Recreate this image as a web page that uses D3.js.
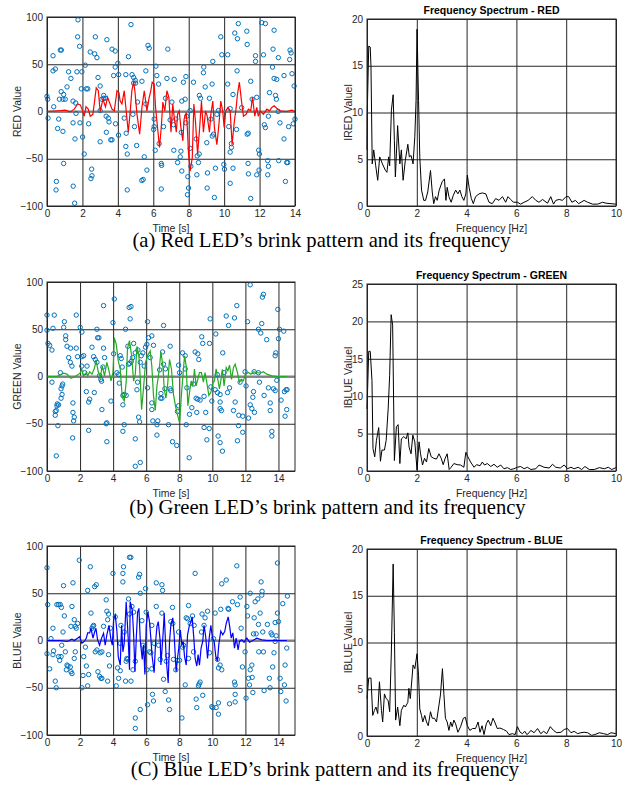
<!DOCTYPE html>
<html lang="en">
<head>
  <meta charset="UTF-8">
  <script src="https://d3js.org/d3.v7.min.js"></script>
  <style>
    body { margin: 0; background: #fff; }
    svg { display: block; font-family: "Liberation Sans", Arial, sans-serif; }
    .tick text { fill: #262626; font-family: "Liberation Sans", Arial, sans-serif; font-size: 10px; }
    .grid line { stroke: #262626; stroke-width: 1; }
    .axlabel { fill: #262626; font-size: 10.5px; }
    .title { fill: #000; font-size: 10.5px; font-weight: bold; }
    .caption { fill: #000; font-family: "Liberation Serif", "Times New Roman", serif; font-size: 20.6px; }
  </style>
  <title>LED blink patterns</title>
</head>
<body>
<svg id="fig" width="630" height="792"></svg>
<script>

// ---- data: [time s, value] ----
var redDots = [[1.75,97],[1.73,79],[1.84,69],[0.34,59],[0.75,65],[0.81,65],[2.73,79],[2.44,63],[2.69,61],[2.82,57],[3.38,76],[3.67,66],[3.85,64],[4.74,92],[4.6,58],[5.7,70],[5.77,67],[6.82,66],[9.81,79],[9.87,60],[10.2,60],[10.6,83],[10.8,93],[10.75,77],[11.28,85],[11.3,71],[9.36,53],[11.77,59],[11.77,53],[12.12,94],[12.33,93],[12.22,60],[12.82,86],[12.76,66],[13.06,57],[13.72,65],[13.78,62],[13.7,55],[13.83,40],[13.38,38],[12.73,47],[12.82,35],[12.97,34],[13.95,27],[12.56,20],[12.9,17],[12.95,13],[13.05,0],[12.5,-5],[13.15,-12],[13.64,-16],[13.9,-13],[14.0,-8],[13.38,-29],[12.27,-14],[12.33,-17],[11.84,15],[11.58,13],[11.5,32],[10.73,43],[10.2,29],[10.5,18],[10.34,3],[10.99,4],[10.26,-16],[10.7,-19],[10.41,-34],[10.41,-38],[10.34,-43],[11.3,-24],[11.36,-23],[11.95,-41],[11.99,-45],[11.35,-55],[11.97,-62],[11.37,-66],[11.84,-67],[12.46,-52],[12.5,-58],[12.46,-67],[13.08,-52],[13.53,-54],[13.59,-54],[13.46,-74],[11.5,-92],[10.5,-60],[10.34,-76],[9.98,-56],[10.02,-61],[9.51,-60],[9.45,-91],[9.06,-65],[9.04,-81],[9.02,-33],[9.25,-8],[9.4,-24],[9.33,-26],[9.68,1],[9.59,-3],[8.67,14],[9.17,14],[8.93,26],[8.83,41],[8.85,47],[9.32,29],[8.27,31],[8.6,17],[7.84,37],[7.61,11],[7.7,31],[7.18,34],[6.77,35],[6.2,38],[6.3,29],[6.15,48],[5.58,43],[5.36,32],[5.0,30],[4.89,30],[4.98,33],[4.89,36],[4.8,39],[4.45,39],[4.0,51],[3.85,47],[3.76,38],[4.04,39],[2.88,36],[3.0,27],[2.16,49],[1.97,42],[1.69,42],[2.3,24],[2.22,24],[1.94,24],[1.35,35],[1.22,42],[1.13,26],[0.8,21],[0.94,18],[0.7,13],[0.9,13],[1.03,13],[0.47,45],[0.34,43],[0.0,16],[0.04,13],[0.38,5],[0.06,-7],[0.6,-18],[0.9,-21],[0.66,-8],[1.47,11],[1.62,9],[1.47,-12],[1.64,-2],[1.86,-12],[1.58,-29],[2.01,-27],[2.35,-13],[2.1,-45],[0.94,-55],[0.53,-74],[0.51,-83],[1.48,-79],[1.56,-97],[2.52,-61],[2.54,-68],[2.48,-71],[3.0,-32],[3.0,1],[3.1,13],[3.2,14],[3.3,14],[3.2,17],[3.34,-5],[3.46,-7],[3.5,-11],[3.35,-22],[3.6,-30],[3.67,-30],[4.04,-25],[3.87,-13],[4.36,-7],[4.47,-23],[4.45,-37],[4.53,-45],[4.53,-83],[4.85,-3],[4.94,-16],[5.06,-36],[5.35,-73],[5.43,-72],[5.49,-48],[5.64,-62],[5.11,10],[5.58,8],[6.05,-8],[6.02,-19],[6.05,-16],[6.11,-41],[6.33,-34],[6.45,-55],[6.47,-57],[6.45,-82],[6.58,-16],[6.69,14],[6.95,-9],[7.05,10],[7.14,-14],[7.27,-8],[7.16,-41],[7.37,-54],[7.56,-42],[7.52,-48],[7.61,-63],[7.58,-22],[7.89,-5],[7.84,-12],[8.08,-39],[7.95,-69],[7.99,-81],[7.93,-88],[8.12,-58],[8.48,-47],[8.46,-67],[8.55,-54],[8.59,-45],[8.42,-29],[8.08,1],[7.8,13]];

var redLine = [[0,0],[0.75,1],[1.03,1.5],[1.32,-0.4],[1.54,2.5],[1.73,8],[1.88,7],[2.01,0.7],[2.1,-5],[2.2,5],[2.33,2.5],[2.44,-5],[2.59,-3],[2.78,25],[2.9,22],[3.0,0],[3.16,13],[3.3,5],[3.42,15],[3.53,9.5],[3.67,2.5],[3.8,0.7],[3.95,22],[4.06,20],[4.13,11],[4.23,8],[4.36,22],[4.47,0.7],[4.59,-22],[4.7,0.7],[4.79,22],[4.89,31],[4.96,22],[5.08,-3],[5.23,-24],[5.36,4.3],[5.49,22],[5.64,0.7],[5.75,13],[5.86,22],[5.94,31],[6.05,29],[6.13,4.3],[6.24,-17],[6.35,-38],[6.45,-17],[6.54,10],[6.65,0.7],[6.77,22],[6.88,15],[7.0,-22],[7.1,8],[7.18,-6],[7.3,-22],[7.37,-3],[7.46,0.7],[7.56,-17],[7.67,-31],[7.74,-8],[7.86,-1],[7.93,-20],[7.99,-45],[8.08,-63],[8.2,-49],[8.29,8],[8.38,-10],[8.5,-45],[8.6,-22],[8.72,11],[8.83,-22],[8.95,0.7],[9.04,-4.6],[9.17,-22],[9.25,-3],[9.36,11],[9.45,-17],[9.59,-35],[9.7,-15],[9.81,11],[9.92,0.7],[10.0,-17],[10.09,0.7],[10.22,4.3],[10.34,0.7],[10.45,-35],[10.56,-13],[10.68,4.3],[10.75,18],[10.86,31],[10.98,11],[11.09,-5],[11.24,-3],[11.37,2.5],[11.5,0.7],[11.6,15],[11.73,-5],[11.84,4.3],[11.93,-5],[12.03,0.7],[12.22,-3],[12.41,2.5],[12.56,0.7],[12.69,4.3],[12.82,6],[12.97,3.5],[13.16,0.7],[13.53,0],[13.81,1.4],[14,0]];

var greenDots = [[0,65],[0.44,65],[0,49],[0.36,51],[0.06,35],[0.16,33],[0.3,28],[0.3,-6],[1.05,58],[1.01,52],[1.13,43],[1.13,39],[1.21,32],[1.43,30],[1.31,20],[1.41,15],[1.51,11],[0.81,4],[0.95,-8],[0.91,-10],[0.85,-13],[0.91,-19],[0.85,-23],[0.7,-30],[0.62,-29],[0.6,-31],[0.5,-37],[0.56,-36],[0.5,-41],[0.66,-52],[0.56,-84],[1.55,-65],[1.57,-28],[1.57,-38],[1.65,-43],[1.61,-47],[1.77,65],[1.77,30],[1.85,21],[2.01,52],[2.11,47],[2.11,21],[2.22,22],[2.1,11],[2.28,4],[2.42,11],[2.72,31],[2.82,21],[2.92,18],[3.02,15],[3.06,41],[3.14,41],[3.02,50],[3.38,10],[3.18,1],[3.26,-3],[3.3,-5],[2.52,-57],[2.58,-24],[2.52,-27],[2.38,-16],[2.86,-17],[3.32,-35],[3.42,30],[3.48,20],[3.42,75],[3.62,-49],[3.58,-50],[3.62,-69],[3.87,-26],[3.99,57],[4.07,82],[4.03,24],[4.23,4],[4.33,2],[4.37,-7],[4.43,22],[4.49,19],[4.55,10],[4.59,-20],[4.67,-19],[4.79,-20],[4.59,-30],[4.67,-51],[4.59,-58],[4.89,32],[4.75,50],[4.97,73],[5.08,74],[5.03,61],[5.0,14],[4.93,13],[5.1,16],[5.18,20],[5.24,35],[5.34,25],[5.5,28],[5.48,-6],[5.44,-14],[5.34,-66],[5.34,-95],[5.64,-91],[5.54,-43],[5.6,-48],[5.64,15],[5.7,22],[5.8,25],[5.88,11],[5.96,31],[6.04,34],[6.08,58],[6.08,-12],[6.14,41],[6.24,20],[6.34,43],[6.44,33],[6.34,-28],[6.34,-35],[6.4,-47],[6.7,-47],[6.65,-51],[6.65,-62],[6.89,-18],[6.99,26],[7.05,13],[7.05,54],[7.13,-13],[6.87,-23],[6.95,-23],[6.81,7],[7.17,8],[7.35,-51],[7.45,32],[7.45,-13],[7.49,-15],[7.59,-69],[7.85,-73],[7.89,-37],[7.96,-31],[8.02,4],[7.96,12],[8.2,25],[8.36,22],[8.36,8],[8.46,-12],[8.42,-51],[8.6,-86],[8.62,-40],[8.76,-33],[8.86,-8],[8.96,26],[9.12,24],[9.18,18],[9.02,-23],[9.12,-24],[9.26,-25],[9.06,-38],[9.36,42],[9.42,35],[9.5,-21],[9.6,-38],[9.5,-54],[9.67,-67],[9.81,-55],[9.87,61],[9.83,35],[9.91,-11],[9.97,-26],[10.21,45],[10.35,-63],[10.47,-70],[10.61,-79],[10.3,2],[10.17,-14],[10.31,-17],[10.47,-19],[10.47,-27],[10.47,-34],[10.55,-36],[10.63,25],[10.84,64],[10.98,54],[10.71,4],[10.92,-17],[11.04,-12],[11.28,-36],[11.38,-27],[11.34,62],[11.48,75],[11.52,-68],[11.6,-41],[11.58,-52],[11.68,-6],[11.84,-42],[11.84,-59],[11.98,5],[12.04,-10],[12.13,58],[12.19,-44],[12.29,-30],[12.39,-34],[12.45,-22],[12.49,-16],[12.55,-38],[12.53,5],[12.79,4],[12.85,-6],[12.29,97],[12.79,50],[12.93,46],[12.99,56],[13.03,84],[13.09,87],[13.13,-20],[13.29,39],[13.39,-12],[13.5,-36],[13.5,-28],[13.6,-58],[13.6,-63],[13.7,-13],[13.8,-15],[13.84,25],[13.8,22],[13.9,-4],[13.96,71],[14.0,40],[14.06,50],[14.16,-25],[14.36,-16],[14.32,48],[14.46,-14],[14.52,-14],[14.4,-42],[14.5,-35]];

var greenLine = [[0,0],[0.6,0],[1.0,3.5],[1.21,2.5],[1.45,-2],[1.71,0],[2.0,3.5],[2.1,8],[2.2,0.7],[2.38,4.2],[2.46,0.7],[2.58,5],[2.72,2.5],[2.86,8.5],[2.98,16.5],[3.1,5],[3.22,-1],[3.34,11],[3.48,0.7],[3.62,15],[3.75,6],[3.87,-4.6],[3.99,4.2],[4.07,41],[4.19,34],[4.31,16.5],[4.43,7.7],[4.55,-22],[4.67,-26],[4.79,-6],[4.87,30],[4.99,38],[5.12,22],[5.24,-5],[5.34,2.5],[5.44,32],[5.56,22],[5.64,-2],[5.72,-35],[5.84,-12],[5.96,15],[6.08,22],[6.24,27],[6.34,11],[6.44,-20],[6.55,-36],[6.65,-10],[6.77,4.2],[6.89,26],[7.01,11],[7.09,-13],[7.19,-23],[7.29,-10],[7.41,18],[7.53,7.7],[7.65,-19],[7.77,-31],[7.89,-40],[8.02,-49],[8.12,-22],[8.22,0.7],[8.32,22],[8.42,11],[8.52,-31],[8.62,-17],[8.72,-4.6],[8.82,-10],[8.92,8],[9.02,-10],[9.12,-3],[9.22,4],[9.34,4],[9.46,-6],[9.56,4],[9.66,-6],[9.79,-20],[9.91,-17],[10.03,-7],[10.13,-4.6],[10.23,8],[10.31,-1],[10.43,-13],[10.51,-4.6],[10.61,7.7],[10.71,-10],[10.84,9.5],[10.94,6],[11.04,12],[11.16,-3],[11.28,9.5],[11.38,13],[11.52,4.2],[11.64,-6],[11.76,-3],[11.88,-4.6],[12.0,2.5],[12.19,4.2],[12.33,2.5],[12.49,4.9],[12.69,4.2],[12.89,3.5],[13.09,5],[13.29,2.5],[13.6,0.7],[13.9,0],[14.5,0]];

var blueDots = [[0,77],[0.04,38],[0.16,-30],[0,-14],[0.24,2],[0.36,13],[0.36,-15],[0.4,-11],[0.5,-43],[0.56,-50],[0.6,38],[0.7,38],[0.8,38],[0.87,35],[0.7,-17],[0.77,-21],[0.85,-17],[0.89,-5],[0.97,9],[1.0,58],[1.05,26],[1.11,-12],[1.17,-31],[1.21,-26],[1.27,-27],[1.41,-28],[1.45,-33],[1.51,-35],[1.45,15],[1.57,61],[1.51,36],[1.65,22],[1.71,15],[1.77,13],[1.85,18],[1.71,-12],[1.65,-19],[1.95,85],[2.11,-50],[2.18,-37],[2.22,-17],[2.32,-7],[2.38,-27],[2.46,-48],[2.46,53],[2.52,-36],[2.62,78],[2.66,29],[2.72,13],[2.78,15],[2.82,16],[2.88,57],[2.98,59],[2.92,-12],[3.02,-10],[3.08,-33],[3.18,-38],[3.26,-40],[3.22,-13],[3.32,-12],[3.32,-40],[3.42,15],[3.58,43],[3.62,31],[3.72,28],[3.67,22],[3.67,-43],[3.72,-15],[3.78,-27],[3.83,13],[3.99,71],[4.13,25],[4.19,-48],[4.27,-29],[4.33,-40],[4.43,-32],[4.43,-3],[4.47,16],[4.59,71],[4.63,78],[4.59,62],[4.67,9],[4.75,-43],[4.83,-19],[4.87,-20],[4.79,-22],[4.99,28],[4.93,44],[4.99,88],[5.07,88],[5.08,-43],[5.2,-31],[5.14,36],[5.24,30],[5.34,-22],[5.34,-82],[5.34,-93],[5.54,67],[5.6,70],[5.64,50],[5.64,-73],[5.74,21],[5.8,-5],[5.88,-10],[5.96,55],[6.0,30],[6.04,-31],[6.08,-68],[6.2,-12],[6.28,-13],[6.34,16],[6.34,-30],[6.38,-57],[6.44,-64],[6.48,-3],[6.61,61],[6.61,36],[6.75,-5],[6.85,-20],[6.95,59],[6.99,53],[6.95,29],[7.05,-41],[7.15,-54],[7.21,-22],[7.29,-16],[7.35,-63],[7.41,-73],[7.49,20],[7.59,35],[7.61,18],[7.65,-20],[7.79,-31],[7.89,-21],[7.96,9],[8.02,-21],[8.16,-82],[8.2,-7],[8.26,-5],[8.36,-47],[8.42,24],[8.5,23],[8.56,37],[8.56,-19],[8.66,18],[8.8,26],[8.86,-12],[8.96,71],[8.9,16],[9.02,-62],[9.06,-71],[9.16,-48],[9.2,-46],[9.26,-44],[9.34,9],[9.38,28],[9.42,-58],[9.5,16],[9.56,24],[9.71,31],[9.83,-13],[9.97,-70],[10.03,-71],[10.07,2],[10.17,29],[10.23,-71],[10.31,-20],[10.37,-66],[10.37,-78],[10.37,-29],[10.47,-26],[10.51,33],[10.57,-31],[10.57,60],[10.84,64],[10.99,33],[10.95,34],[11.04,-67],[11.22,41],[11.34,-44],[11.38,-47],[11.38,-57],[11.38,-65],[11.48,79],[11.52,38],[11.68,46],[11.74,13],[11.82,-28],[11.98,-12],[12.04,-61],[12.09,36],[12.13,26],[12.19,-40],[12.25,-47],[12.29,-31],[12.29,50],[12.39,-26],[12.41,-39],[12.45,-55],[12.49,7],[12.53,24],[12.59,41],[12.65,7],[12.75,44],[12.79,17],[12.81,-12],[12.89,29],[12.95,62],[12.99,48],[13.01,52],[13.05,9],[13.09,-12],[13.13,-53],[13.33,17],[13.45,-40],[13.49,-50],[13.55,8],[13.61,6],[13.65,-28],[13.73,-13],[13.8,-1],[13.8,19],[13.86,5],[13.94,29],[14.0,20],[13.94,82],[14.1,-40],[14.14,-54],[14.26,39],[14.36,-47],[14.4,-26],[14.46,-64],[14.5,-8],[14.54,47]];

var blueLine = [[0,0],[0.81,0],[1.21,-1],[1.51,1.4],[1.65,0],[1.97,4],[2.11,-3],[2.26,-1],[2.38,2.5],[2.46,8],[2.58,8],[2.66,13],[2.78,2.5],[2.88,9],[2.96,13],[3.06,0.7],[3.18,-5],[3.3,2.5],[3.42,7.7],[3.52,-5],[3.62,6],[3.75,16],[3.87,0.7],[3.95,-5],[4.03,23],[4.13,27],[4.23,9.5],[4.31,-17],[4.43,-26],[4.51,16],[4.59,-12],[4.67,-3],[4.79,41],[4.91,2.5],[4.99,-31],[5.03,41],[5.16,32],[5.24,6],[5.32,-33],[5.4,2.5],[5.48,30],[5.56,34],[5.64,0.7],[5.76,-20],[5.84,-4.6],[5.92,-36],[6.0,16],[6.1,30],[6.2,20],[6.28,2.5],[6.36,-17],[6.48,-34],[6.57,-1],[6.65,15],[6.73,20],[6.85,-1],[6.89,-26],[7.03,9.5],[7.09,29],[7.21,-19],[7.33,-45],[7.41,-1],[7.49,16],[7.61,24],[7.69,6],[7.81,-33],[7.89,-19],[7.97,-8],[8.06,11],[8.16,-4.6],[8.24,-1],[8.32,-17],[8.42,-26],[8.5,6],[8.6,15],[8.7,20],[8.78,25],[8.88,2.5],[8.96,-19],[9.06,-27],[9.14,-15],[9.22,-26],[9.32,-8],[9.42,-1],[9.5,16],[9.6,4],[9.71,-19],[9.81,2.5],[9.91,16],[10.01,2.5],[10.11,-1],[10.21,-17],[10.31,-22],[10.39,-4.6],[10.51,10],[10.63,6],[10.75,9.5],[10.84,18],[10.96,25],[11.04,16],[11.14,2.5],[11.24,8],[11.34,-8],[11.44,2.5],[11.56,-10],[11.64,-1],[11.78,0.7],[11.92,-1.8],[12.09,2.5],[12.25,-1.8],[12.45,0],[12.69,2.5],[12.99,0.7],[13.29,0],[13.9,0],[14.5,0]];

// ---- spectra: [frequency Hz, magnitude] ----
var redSpec = [[0,6],[0.01,9.9],[0.07,17.1],[0.13,17],[0.16,14.9],[0.21,4.5],[0.27,6],[0.35,4.3],[0.43,2.75],[0.51,5.25],[0.62,4.5],[0.74,3.8],[0.8,3.6],[0.87,5.25],[0.91,4.3],[0.98,10.25],[1.05,11.9],[1.1,7],[1.14,3.1],[1.23,8.6],[1.32,4.5],[1.38,6],[1.45,2.75],[1.54,4.9],[1.64,6.6],[1.7,5.25],[1.77,5.4],[1.85,4.5],[1.92,7.4],[1.97,11.3],[2.01,18.9],[2.07,11.3],[2.12,5.25],[2.19,1.7],[2.28,0.6],[2.35,0.6],[2.44,1.5],[2.55,3.8],[2.62,1.5],[2.68,0.25],[2.75,1],[2.82,0.6],[2.9,1.7],[3.02,2.6],[3.11,2.9],[3.17,0.6],[3.22,2],[3.29,1],[3.38,0.4],[3.46,1.1],[3.56,1.7],[3.65,1.3],[3.73,1.7],[3.81,1],[3.89,0.6],[3.97,1.3],[4.03,3.3],[4.1,2],[4.19,0.8],[4.27,0.25],[4.36,1],[4.5,1.3],[4.63,1.4],[4.77,1.3],[4.9,0.4],[5.03,0.25],[5.17,0.8],[5.3,0.6],[5.44,1],[5.57,0.4],[5.66,1],[5.77,0.7],[5.88,0.4],[6.04,0.4],[6.17,0.2],[6.31,0.4],[6.47,0.6],[6.64,1],[6.78,0.6],[6.91,0.4],[7.05,0.7],[7.25,0.3],[7.38,1],[7.49,0.2],[7.58,0.6],[7.72,0.7],[7.85,0.6],[7.99,1],[8.1,1],[8.23,0.4],[8.37,0.6],[8.5,0.25],[8.72,0.6],[8.86,0.4],[9.06,0.2],[9.26,0.2],[9.46,0.4],[9.6,0.3],[9.8,0.25],[10,0.2]];

var greenSpec = [[0,8.3],[0.07,16],[0.13,16],[0.2,12.1],[0.24,3],[0.31,1.9],[0.38,4.1],[0.47,5.8],[0.54,1.3],[0.6,2.8],[0.7,2.8],[0.77,4.1],[0.85,8.3],[0.91,12.8],[0.97,20.9],[1.03,19.5],[1.1,1.4],[1.18,5.9],[1.25,6.2],[1.32,1],[1.38,4.3],[1.48,4.6],[1.57,4.3],[1.64,5.1],[1.69,3.2],[1.77,2.3],[1.84,4.8],[1.92,3.9],[2.01,0.1],[2.09,3.9],[2.15,2.3],[2.23,0.8],[2.31,1.7],[2.39,1.2],[2.48,3],[2.58,1.9],[2.68,1.7],[2.79,1.6],[2.89,2.3],[2.98,1.7],[3.06,0.85],[3.14,1.7],[3.22,2.3],[3.3,0.2],[3.38,0.5],[3.49,1],[3.62,0.85],[3.76,0.8],[3.89,0.5],[3.97,2.5],[4.05,1.9],[4.16,1.2],[4.3,0.5],[4.4,0.85],[4.54,0.7],[4.63,1.2],[4.72,0.8],[4.83,1],[4.97,0.6],[5.1,0.9],[5.23,0.5],[5.37,0.8],[5.5,0.3],[5.64,0.45],[5.77,0.2],[5.9,0.3],[6.04,0.5],[6.17,0.6],[6.31,0.3],[6.44,0.5],[6.58,0.2],[6.78,0.3],[6.91,0.8],[7.11,0.5],[7.32,0.4],[7.45,0.9],[7.58,0.5],[7.76,0.4],[7.92,0.8],[8.05,0.3],[8.19,0.5],[8.32,0.3],[8.48,0.5],[8.62,0.2],[8.75,0.6],[8.93,0.2],[9.13,0.2],[9.33,0.45],[9.53,0.3],[9.69,0.5],[9.83,0.2],[10,0.45]];

var blueSpec = [[0,4],[0.07,6.2],[0.16,6.2],[0.23,2.2],[0.3,2.75],[0.36,3.1],[0.43,2.4],[0.5,5.8],[0.58,2.75],[0.63,1.5],[0.7,4.5],[0.77,4],[0.85,3.8],[0.91,2.6],[0.98,9.2],[1.05,18.4],[1.1,11.1],[1.15,1.7],[1.23,3.1],[1.32,1.1],[1.38,2.75],[1.48,3.3],[1.54,3.1],[1.64,3.6],[1.68,5.1],[1.74,4],[1.85,7.6],[1.92,7.2],[2.01,8.8],[2.07,6.5],[2.12,2.9],[2.19,2.2],[2.24,1.5],[2.32,2.2],[2.39,1.5],[2.46,1.1],[2.55,2.6],[2.62,1.9],[2.71,1.9],[2.79,1.5],[2.89,3.3],[2.95,4.4],[3.03,7.2],[3.09,4.4],[3.15,1.9],[3.22,1.5],[3.29,0.6],[3.36,1.5],[3.42,1],[3.49,1.7],[3.56,1.3],[3.65,0.4],[3.76,1],[3.87,1.9],[3.95,2],[4.03,1.1],[4.13,0.6],[4.24,0.8],[4.36,0.8],[4.46,1.5],[4.54,0.4],[4.62,1.1],[4.7,0.15],[4.79,1.3],[4.87,1.7],[4.97,1.1],[5.06,1.9],[5.13,1.5],[5.23,0.8],[5.34,0.85],[5.48,0.7],[5.61,0.5],[5.7,0.15],[5.84,0.25],[5.95,0.15],[6.04,1],[6.15,0.4],[6.24,0.25],[6.34,0.5],[6.42,0.15],[6.51,0.35],[6.58,0.6],[6.71,0.35],[6.85,0.8],[6.98,0.25],[7.09,0.5],[7.22,0.25],[7.36,1],[7.49,0.6],[7.62,0.35],[7.79,0.4],[7.92,0.7],[8.05,0.8],[8.19,0.35],[8.32,0.5],[8.46,0.25],[8.59,0.35],[8.72,0.4],[8.86,0.35],[9.02,0.07],[9.15,0.15],[9.33,0.35],[9.5,0.25],[9.66,0.15],[9.8,0.35],[10,0.25]];

var captions = [
  "(a) Red LED\u2019s brink pattern and its frequency",
  "(b) Green LED\u2019s brink pattern and its frequency",
  "(C) Blue LED\u2019s brink pattern and its frequency"
];

var svg = d3.select("#fig");

// strip the defaults d3 puts on an axis group so the css fonts apply
function plain(s) {
  s.attr("font-family", null).attr("font-size", null);
  s.select(".domain").remove();
}

// grid + tick labels + axis labels shared by both kinds of panel
function axes(g, x, y, xTicks, yTicks, xLabel, yLabel, labelX) {
  var x0 = x.range()[0], x1 = x.range()[1];
  var yb = y.range()[0], yt = y.range()[1];

  g.append("g").attr("class", "grid")
    .attr("transform", "translate(0," + yb + ")")
    .call(d3.axisBottom(x).tickValues(xTicks).tickSize(-(yb - yt)).tickFormat(""))
    .call(plain);
  g.append("g").attr("class", "grid")
    .attr("transform", "translate(" + x0 + ",0)")
    .call(d3.axisLeft(y).tickValues(yTicks).tickSize(-(x1 - x0)).tickFormat(""))
    .call(plain);

  g.append("g")
    .attr("transform", "translate(0," + yb + ")")
    .call(d3.axisBottom(x).tickValues(xTicks).tickSize(0).tickPadding(4))
    .call(plain);
  g.append("g")
    .attr("transform", "translate(" + x0 + ",0)")
    .call(d3.axisLeft(y).tickValues(yTicks).tickSize(0).tickPadding(4))
    .call(plain);

  g.append("text").attr("class", "axlabel")
    .attr("x", (x0 + x1) / 2).attr("y", yb + 26)
    .attr("text-anchor", "middle").text(xLabel);
  g.append("text").attr("class", "axlabel")
    .attr("transform", "translate(" + labelX + "," + (yb + yt) / 2 + ") rotate(-90)")
    .attr("text-anchor", "middle").text(yLabel);
}

function box(g, x, y) {
  g.append("rect")
    .attr("x", x.range()[0]).attr("y", y.range()[1])
    .attr("width", x.range()[1] - x.range()[0])
    .attr("height", y.range()[0] - y.range()[1])
    .attr("fill", "none").attr("stroke", "#262626").attr("stroke-width", 1);
}

function timePanel(top, xMax, dots, trace, color, yLabel) {
  var x = d3.scaleLinear().domain([0, xMax]).range([47, 295]);
  var y = d3.scaleLinear().domain([-100, 100]).range([top + 189, top]);
  var g = svg.append("g");

  axes(g, x, y, d3.range(0, 15, 2), [-100, -50, 0, 50, 100], "Time [s]", yLabel, 21);

  g.append("line")
    .attr("x1", x(0)).attr("x2", x(xMax))
    .attr("y1", y(0)).attr("y2", y(0))
    .attr("stroke", "#808080").attr("stroke-width", 2);

  g.selectAll("circle").data(dots).enter().append("circle")
    .attr("cx", d => x(d[0])).attr("cy", d => y(d[1]))
    .attr("r", 2.2)
    .attr("fill", "none").attr("stroke", "#0072BD").attr("stroke-width", 1);

  g.append("path").datum(trace)
    .attr("d", d3.line().x(d => x(d[0])).y(d => y(d[1])))
    .attr("fill", "none").attr("stroke", color).attr("stroke-width", 1.2);

  box(g, x, y);
}

function specPanel(top, yMax, spec, title, yLabel) {
  var x = d3.scaleLinear().domain([0, 10]).range([367, 616]);
  var y = d3.scaleLinear().domain([0, yMax]).range([top + 187, top]);
  var g = svg.append("g");

  axes(g, x, y, d3.range(0, 11, 2), d3.range(0, yMax + 1, 5), "Frequency [Hz]", yLabel, 352);

  g.append("path").datum(spec)
    .attr("d", d3.line().x(d => x(d[0])).y(d => y(d[1])))
    .attr("fill", "none").attr("stroke", "#000").attr("stroke-width", 1);

  box(g, x, y);

  g.append("text").attr("class", "title")
    .attr("x", 491.5).attr("y", top - 5)
    .attr("text-anchor", "middle").text(title);
}

timePanel(17, 14, redDots, redLine, "#ff0000", "RED Value");
specPanel(19, 20, redSpec, "Frequency Spectrum - RED", "IRED Valuel");

timePanel(282, 15, greenDots, greenLine, "#22aa22", "GREEN Value");
specPanel(284, 25, greenSpec, "Frequency Spectrum - GREEN", "IBLUE Valuel");

timePanel(546, 15, blueDots, blueLine, "#0000ff", "BLUE Value");
specPanel(549, 20, blueSpec, "Frequency Spectrum - BLUE", "IBLUE Valuel");

// figure captions
svg.selectAll("text.caption").data(captions).enter().append("text")
  .attr("class", "caption")
  .attr("x", (d, i) => [321.5, 327.5, 325][i])
  .attr("y", (d, i) => [247, 514, 776][i])
  .attr("text-anchor", "middle")
  .text(d => d);

</script>
</body>
</html>
